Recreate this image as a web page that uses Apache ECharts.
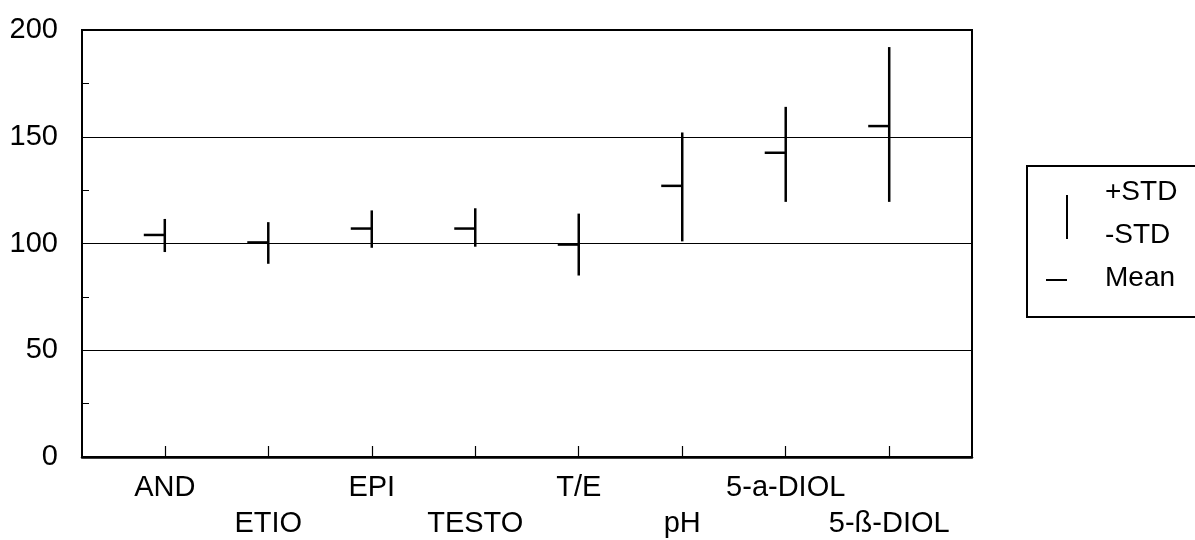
<!DOCTYPE html>
<html>
<head>
<meta charset="utf-8">
<script src="https://cdn.jsdelivr.net/npm/echarts@6/dist/echarts.min.js"></script>
<style>
  html, body { margin: 0; padding: 0; background: #fff; }
  #chart { width: 1195px; height: 540px; }
</style>
</head>
<body>
<div id="chart"></div>
<script>
// categories, in order along the x axis
var categories = ['AND', 'ETIO', 'EPI', 'TESTO', 'T/E', 'pH', '5-a-DIOL', '5-ß-DIOL'];
var meanValues = [104, 100.5, 107, 107, 99.5, 127, 142.5, 155];
var plusStd = [111.5, 110, 115.5, 116.5, 114, 152, 164, 192];
var minusStd = [96, 90.5, 98, 98.5, 85, 101, 119.5, 119.5];
var yTicks = [0, 50, 100, 150, 200];

var FONT = '"Liberation Sans", Arial, sans-serif';

// x position, -std, +std, mean
var rows = categories.map(function (c, i) {
  return [i + 1, minusStd[i], plusStd[i], meanValues[i]];
});
var xPos = rows.map(function (r) { return r[0]; });
// labels alternate between two rows
var upperRow = xPos.filter(function (v) { return v % 2 === 1; });
var lowerRow = xPos.filter(function (v) { return v % 2 === 0; });

function catName(v) {
  return categories[Math.round(v) - 1];
}

var labelBase = {
  hideOverlap: false,
  fontSize: 29,
  fontFamily: FONT,
  color: '#000',
  formatter: catName
};

var chart = echarts.init(document.getElementById('chart'));

chart.setOption({
  animation: false,
  backgroundColor: '#fff',
  grid: {
    left: 82, right: 223, top: 30, bottom: 83,
    show: true, borderColor: '#000', borderWidth: 2
  },
  xAxis: [{
    type: 'value',
    min: 0.2,
    max: 8.8,
    axisLine: { lineStyle: { color: '#000', width: 2.5 } },
    axisTick: {
      inside: true, length: 11,
      customValues: xPos,
      lineStyle: { color: '#000', width: 1.2 }
    },
    splitLine: { show: false },
    axisLabel: Object.assign({ customValues: upperRow, margin: 16 }, labelBase)
  }, {
    type: 'value',
    position: 'bottom',
    offset: 0,
    min: 0.2,
    max: 8.8,
    axisLine: { show: false },
    axisTick: { show: false },
    splitLine: { show: false },
    axisLabel: Object.assign({ customValues: lowerRow, margin: 52 }, labelBase)
  }],
  yAxis: {
    type: 'value',
    min: yTicks[0],
    max: yTicks[yTicks.length - 1],
    interval: 50,
    axisLine: { show: true, lineStyle: { color: '#000', width: 1.5 } },
    axisTick: { show: false },
    // negative length points the minor ticks into the plot
    minorTick: { show: true, splitNumber: 2, length: -7, lineStyle: { color: '#000', width: 1 } },
    splitLine: { show: true, lineStyle: { color: '#000', width: 1.2 } },
    axisLabel: {
      margin: 24,
      fontSize: 29,
      fontFamily: FONT,
      color: '#000',
      padding: [0, 0, 6, 0]
    }
  },
  series: [{
    type: 'custom',
    xAxisIndex: 0,
    data: rows,
    encode: { x: 0, y: [1, 2, 3] },
    renderItem: function (params, api) {
      var x = api.value(0);
      var lo = api.coord([x, api.value(1)]);
      var hi = api.coord([x, api.value(2)]);
      var mid = api.coord([x, api.value(3)]);
      return {
        type: 'group',
        children: [
          { type: 'line', shape: { x1: hi[0], y1: hi[1], x2: lo[0], y2: lo[1] },
            style: { stroke: '#000', lineWidth: 2.5 } },
          { type: 'line', shape: { x1: mid[0] - 21, y1: mid[1], x2: mid[0], y2: mid[1] },
            style: { stroke: '#000', lineWidth: 2.5 } }
        ]
      };
    }
  }],
  // legend box on the right, drawn by hand
  graphic: [
    { type: 'rect', left: 1026, top: 165, shape: { width: 200, height: 151 },
      style: { fill: '#fff', stroke: '#000', lineWidth: 2 } },
    { type: 'line', shape: { x1: 1067, y1: 195, x2: 1067, y2: 239 },
      style: { stroke: '#000', lineWidth: 2 } },
    { type: 'line', shape: { x1: 1046, y1: 280, x2: 1067, y2: 280 },
      style: { stroke: '#000', lineWidth: 2 } },
    { type: 'text', x: 1105, y: 192, style: { text: '+STD', font: '28px ' + FONT, fill: '#000', verticalAlign: 'middle' } },
    { type: 'text', x: 1105, y: 235, style: { text: '-STD', font: '28px ' + FONT, fill: '#000', verticalAlign: 'middle' } },
    { type: 'text', x: 1105, y: 278, style: { text: 'Mean', font: '28px ' + FONT, fill: '#000', verticalAlign: 'middle' } }
  ]
});
</script>
</body>
</html>
